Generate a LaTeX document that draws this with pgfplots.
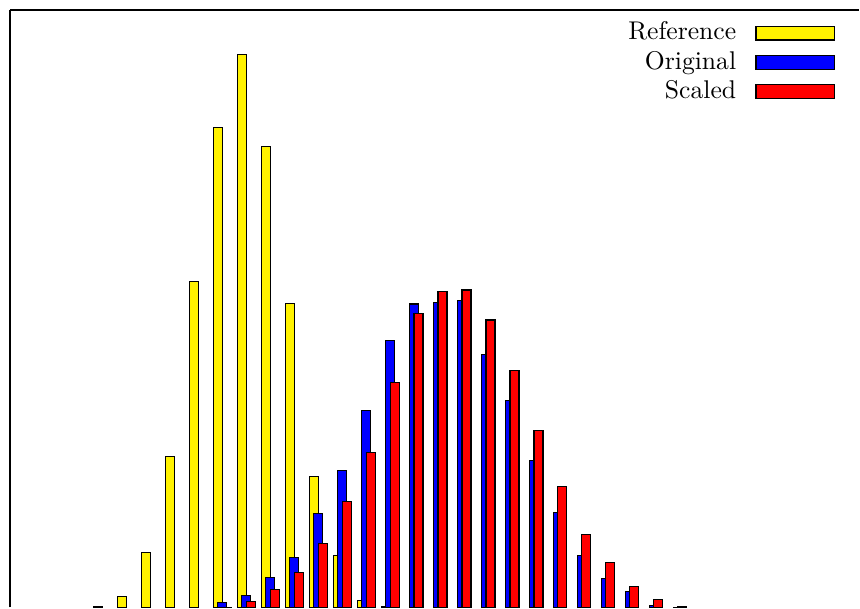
\documentclass[border=0pt]{standalone}
\usepackage{pgfplots}
\pgfplotsset{compat=1.18}
\begin{document}
\begin{tikzpicture}
\path (0pt,0pt) rectangle (335.4pt,-237.12pt);
\begin{axis}[
  at={(3.9pt,-3.9pt)}, anchor=north west,
  scale only axis,
  width=331.5pt, height=233.22pt,
  xmin=-3.854, xmax=31.5625,
  ymin=2, ymax=600,
  xtick=\empty, ytick=\empty,
  axis x line*=top, axis y line*=left,
  axis line style={-, line width=0.7pt},
  x axis line style={-}, y axis line style={-},
  ybar=-1.755pt,
  bar width=3.51pt,
  legend image code/.code={\draw[#1,line width=0.45pt] (0pt,-1.35pt) rectangle (30.6pt,4.05pt);},
  every axis plot post/.append style={legend image code/.code={\draw[##1,line width=0.45pt] (0pt,-1.35pt) rectangle (30.6pt,4.05pt);}},
  legend plot pos=right,
  legend cell align=right,
  legend style={
    at={(0.9715,0.9799)}, anchor=north east,
    draw=none, fill=none, inner sep=0pt, outer sep=0pt,
    row sep=0pt, column sep=7.5pt,
    nodes={inner sep=0pt, text height=7pt, text depth=4.4pt},
  },
]
\addplot[draw=black, fill=yellow, line width=0.45pt] coordinates {
(0,2.5) (1,13) (2,57) (3,153) (4,328.5) (5,482.5) (6,555.5) (7,463.5)
(8,306.3) (9,133) (10,54) (11,9) (12,2.7)
};
\addlegendentry{Reference}
\addplot[draw=black, fill=blue, line width=0.45pt] coordinates {
(5,7) (6,14) (7,32) (8,52.3) (9,95.7) (10,139) (11,198.7) (12,269)
(13,305.7) (14,307) (15,309.3) (16,255) (17,208.7) (18,149.3) (19,96.7)
(20,53.7) (21,31.3) (22,18) (23,4) (24,1)
};
\addlegendentry{Original}
\addplot[draw=black, fill=red, line width=0.45pt] coordinates {
(5,0.5) (6,7.7) (7,20.3) (8,37) (9,65.7) (10,108) (11,157.3) (12,227.3)
(13,296.3) (14,318) (15,319.7) (16,289.7) (17,239) (18,179) (19,123)
(20,75) (21,46.7) (22,23) (23,9.7) (24,2.7)
};
\addlegendentry{Scaled}
\end{axis}
\end{tikzpicture}
\end{document}
